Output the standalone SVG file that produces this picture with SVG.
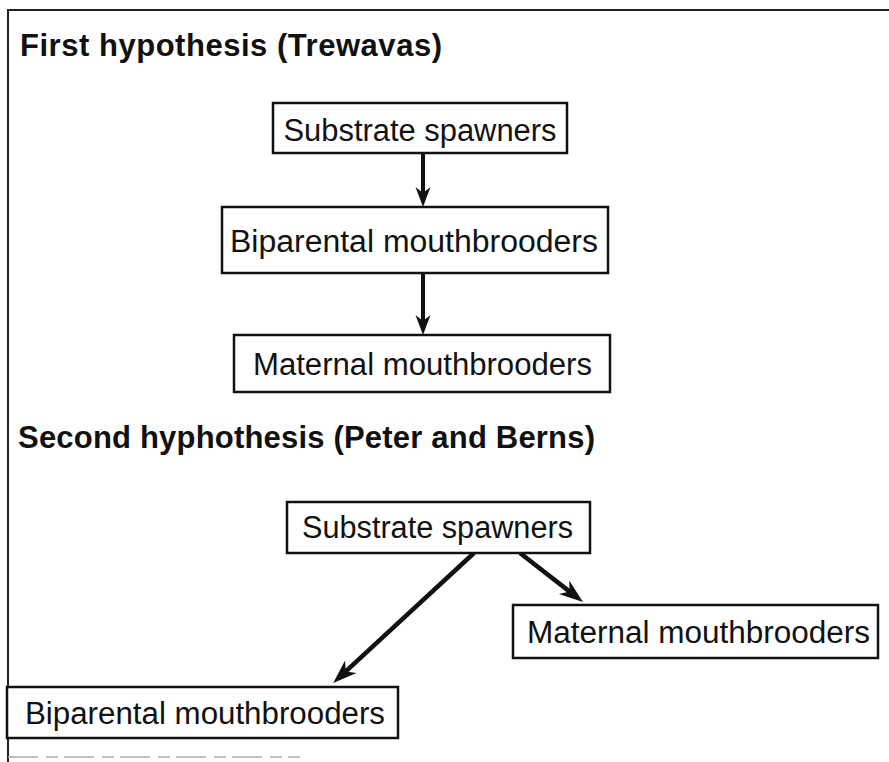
<svg xmlns="http://www.w3.org/2000/svg" width="889" height="762" viewBox="0 0 889 762">
<style>
.title{font-family:"Liberation Sans",Arial,sans-serif;font-weight:bold;font-size:31px;fill:#111}
.lbl{font-family:"Liberation Sans",Arial,sans-serif;font-size:31px;fill:#111;text-anchor:middle}
.box{fill:#fff;stroke:#111;stroke-width:2.5}
.conn{stroke:#111;stroke-width:4;fill:none;marker-end:url(#ah)}
.conn2{stroke:#111;stroke-width:4.5;fill:none;marker-end:url(#ah2)}
.frame{stroke:#222;stroke-width:2;fill:none}
</style>
<defs>
<marker id="ah" viewBox="0 -8 21 16" refX="10" refY="0" markerWidth="21" markerHeight="16" markerUnits="userSpaceOnUse" orient="auto">
<path d="M20,0 L0,-7.5 L6,0 L0,7.5 Z" fill="#111"/>
</marker>
<marker id="ah2" viewBox="0 -9 25 18" refX="12" refY="0" markerWidth="25" markerHeight="18" markerUnits="userSpaceOnUse" orient="auto">
<path d="M24,0 L0,-8.5 L7,0 L0,8.5 Z" fill="#111"/>
</marker>
</defs>
<rect width="889" height="762" fill="#fff"/>
<g id="frame">
<path class="frame" d="M889,10 L8,10 L8,762"/>
<line x1="8" y1="757" x2="300" y2="757" stroke="#aaa" stroke-width="1.5" stroke-dasharray="30 8 12 6"/>
</g>
<g id="titles">
<text id="title1" class="title" x="20" y="56" textLength="422" lengthAdjust="spacing">First hypothesis (Trewavas)</text>
<text id="title2" class="title" x="18" y="448" textLength="577" lengthAdjust="spacing">Second hyphothesis (Peter and Berns)</text>
</g>
<g id="connectors">
<line class="conn" x1="423" y1="153" x2="423" y2="197"/>
<line class="conn" x1="423" y1="273" x2="423" y2="325"/>
<line class="conn2" x1="474" y1="553" x2="342" y2="674.8"/>
<line class="conn2" x1="520" y1="553" x2="573.5" y2="594.6"/>
</g>
<g id="n1-substrate">
<rect class="box" x="273" y="103" width="294" height="50"/>
<text class="lbl" x="420" y="141" textLength="273" lengthAdjust="spacingAndGlyphs">Substrate spawners</text>
</g>
<g id="n1-biparental">
<rect class="box" x="222" y="207" width="386" height="66"/>
<text class="lbl" x="414" y="252" textLength="368" lengthAdjust="spacingAndGlyphs">Biparental mouthbrooders</text>
</g>
<g id="n1-maternal">
<rect class="box" x="234" y="335" width="376" height="57"/>
<text class="lbl" x="422.5" y="375" textLength="339" lengthAdjust="spacingAndGlyphs">Maternal mouthbrooders</text>
</g>
<g id="n2-substrate">
<rect class="box" x="287" y="502" width="303" height="51"/>
<text class="lbl" x="437.5" y="538" textLength="271" lengthAdjust="spacingAndGlyphs">Substrate spawners</text>
</g>
<g id="n2-maternal">
<rect class="box" x="513" y="605" width="365" height="53"/>
<text class="lbl" x="698.5" y="643" textLength="343" lengthAdjust="spacingAndGlyphs">Maternal mouthbrooders</text>
</g>
<g id="n2-biparental">
<rect class="box" x="7" y="687" width="391" height="51"/>
<text class="lbl" x="205" y="724" textLength="360" lengthAdjust="spacingAndGlyphs">Biparental mouthbrooders</text>
</g>
</svg>
